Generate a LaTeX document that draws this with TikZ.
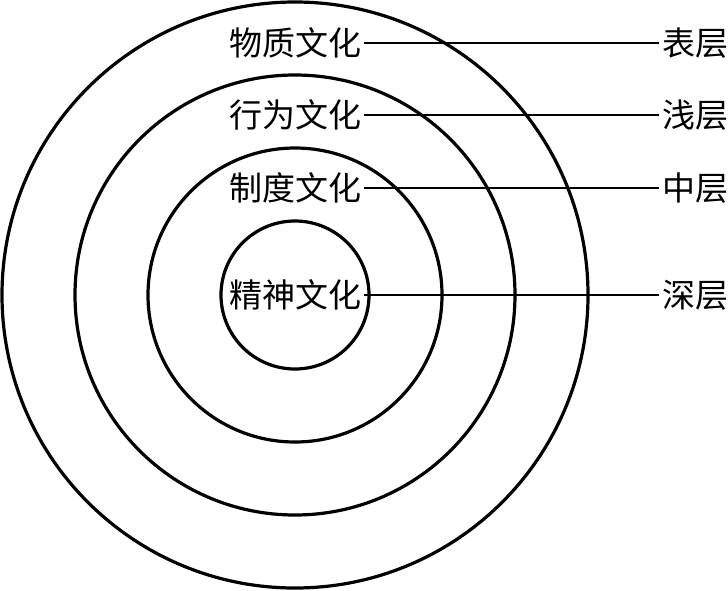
\documentclass[tikz,border=0pt]{standalone}
\usepackage{fontspec}
\newfontfamily\cjk{Noto Sans CJK SC}
\begin{document}
\begin{tikzpicture}[x=1pt,y=-1pt,
  ring/.style={draw=black,line width=3.2pt},
  layer/.style={inner sep=3pt,font=\cjk\fontsize{33}{33}\selectfont},
  lvl/.style={inner sep=3pt,anchor=west,font=\cjk\fontsize{33}{33}\selectfont},
  conn/.style={draw=black,line width=2pt}]
\useasboundingbox (0,0) rectangle (728,590);
\coordinate (c) at (295,295);
\draw[ring] (c) circle (293);
\draw[ring] (c) circle (220);
\draw[ring] (c) circle (147);
\draw[ring] (c) circle (74);
\node[layer] (wz) at (295,43) {物质文化};
\node[layer] (xw) at (295,115) {行为文化};
\node[layer] (zd) at (295,188) {制度文化};
\node[layer] (js) at (295,295) {精神文化};
\node[lvl] (bc) at (659,43) {表层};
\node[lvl] (qc) at (659,115) {浅层};
\node[lvl] (zc) at (659,188) {中层};
\node[lvl] (sc) at (659,295) {深层};
\draw[conn] (wz) -- (bc);
\draw[conn] (xw) -- (qc);
\draw[conn] (zd) -- (zc);
\draw[conn] (js) -- (sc);
\end{tikzpicture}
\end{document}
